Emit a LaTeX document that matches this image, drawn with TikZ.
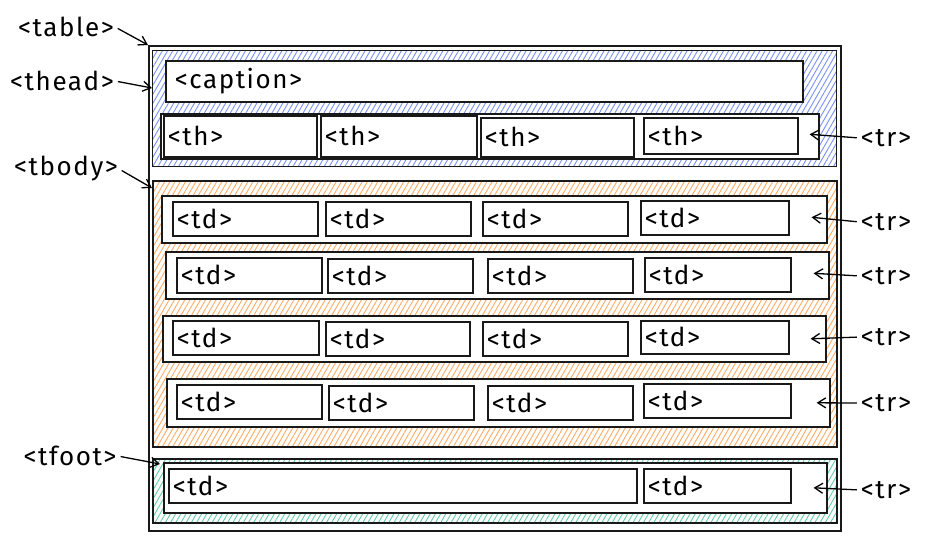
\documentclass[tikz,border=0pt]{standalone}
\usepackage{fontspec}
\setmainfont{Fira Sans}[LetterSpace=6]
\usetikzlibrary{patterns.meta,arrows.meta}
\definecolor{hblue}{RGB}{120,145,240}
\definecolor{horange}{RGB}{252,170,100}
\definecolor{hgreen}{RGB}{100,205,165}
\newcommand\lblfont{\fontsize{26}{30}\selectfont}
\newcommand\gbox[6]{\node[#6, minimum width={(#4)-(#2)}, minimum height={(#5)-(#3)}] (#1) at (#2,#3) {};}
\newcommand\cbox[6]{\pgfmathsetmacro\tw{#4-#2-8}\node[cellbox, text width=\tw pt, minimum height={(#5)-(#3)}] (#1) at (#2,#3) {#6};}
\begin{document}
\begin{tikzpicture}[x=1pt,y=-1pt,
  frame/.style={draw=black!90, line width=1.6pt, anchor=north west, inner sep=0pt},
  hatch/.style={frame, pattern={Lines[angle=60,distance=4.5pt,line width=0.9pt]}, pattern color=#1},
  rowbox/.style={frame, fill=white},
  cellbox/.style={frame, fill=white, inner xsep=4pt, inner ysep=0pt, align=left, font=\lblfont},
  tag/.style={font=\lblfont, inner sep=1pt},
  arr/.style={-{Straight Barb[length=8pt,width=10pt]}, line width=1.3pt, shorten <=3pt}]
\useasboundingbox (0,0) rectangle (932,539);
% table
\gbox{table}{148}{45}{840}{530}{frame}
% thead
\gbox{thead}{152}{50}{836}{166}{hatch=hblue}
\cbox{caption}{165}{60}{802}{101}{\hspace{5pt}<caption>}
\gbox{tr0}{160}{113}{818}{158}{rowbox}
\cbox{th1}{163}{115}{316}{156}{<th>}
\cbox{th2}{320}{115}{476}{156}{<th>}
\cbox{th3}{480}{117}{633}{156}{<th>}
\cbox{th4}{643}{117}{797}{153}{<th>}
% tbody
\gbox{tbody}{152}{180}{836}{446}{hatch=horange}
\gbox{tr1}{161}{195}{826}{242}{rowbox}
\cbox{a1}{172}{201}{317}{235}{<td>}
\cbox{a2}{325}{201}{470}{235}{<td>}
\cbox{a3}{482}{201}{627}{235}{<td>}
\cbox{a4}{640}{200}{788}{234}{<td>}
\gbox{tr2}{165}{251}{828}{298}{rowbox}
\cbox{b1}{176}{257}{321}{292}{<td>}
\cbox{b2}{327}{258}{472}{292}{<td>}
\cbox{b3}{487}{258}{632}{292}{<td>}
\cbox{b4}{644}{257}{790}{291}{<td>}
\gbox{tr3}{162}{315}{825}{361}{rowbox}
\cbox{c1}{172}{320}{318}{354}{<td>}
\cbox{c2}{325}{321}{469}{355}{<td>}
\cbox{c3}{482}{321}{627}{355}{<td>}
\cbox{c4}{640}{320}{788}{353}{<td>}
\gbox{tr4}{166}{378}{829}{426}{rowbox}
\cbox{d1}{176}{384}{321}{418}{<td>}
\cbox{d2}{328}{385}{473}{419}{<td>}
\cbox{d3}{487}{385}{632}{419}{<td>}
\cbox{d4}{643}{383}{790}{417}{<td>}
% tfoot
\gbox{tfoot}{152}{458}{836}{522}{hatch=hgreen}
\gbox{tr5}{163}{462}{826}{512}{rowbox}
\cbox{e1}{168}{468}{636}{502}{<td>}
\cbox{e2}{643}{468}{790}{502}{<td>}
% left labels
\node[tag] (ltable) at (66,27) {<table>};
\node[tag] (lthead) at (62,81) {<thead>};
\node[tag] (ltbody) at (66,169) {<tbody>};
\node[tag] (ltfoot) at (70,456) {<tfoot>};
\draw[arr] (ltable.east) -- (table.north west);
\draw[arr] (lthead.east) -- ([yshift=-38pt]thead.north west);
\draw[arr] (ltbody.east) -- ([yshift=-8pt]tbody.north west);
\draw[arr] (ltfoot.east) -- ([shift={(8pt,-6pt)}]tfoot.north west);
% right labels
\node[tag] (rtr0) at (886,138) {<tr>};
\node[tag] (rtr1) at (886,222) {<tr>};
\node[tag] (rtr2) at (886,276) {<tr>};
\node[tag] (rtr3) at (886,337) {<tr>};
\node[tag] (rtr4) at (886,403) {<tr>};
\node[tag] (rtr5) at (886,490) {<tr>};
\draw[arr] (rtr0.west) -- ([shift={(-10pt,2pt)}]tr0.east);
\draw[arr] (rtr1.west) -- ([shift={(-16pt,2pt)}]tr1.east);
\draw[arr] (rtr2.west) -- ([shift={(-16pt,2pt)}]tr2.east);
\draw[arr] (rtr3.west) -- ([shift={(-16pt,0pt)}]tr3.east);
\draw[arr] (rtr4.west) -- ([shift={(-14pt,0pt)}]tr4.east);
\draw[arr] (rtr5.west) -- ([shift={(-14pt,0pt)}]tr5.east);
\end{tikzpicture}
\end{document}
